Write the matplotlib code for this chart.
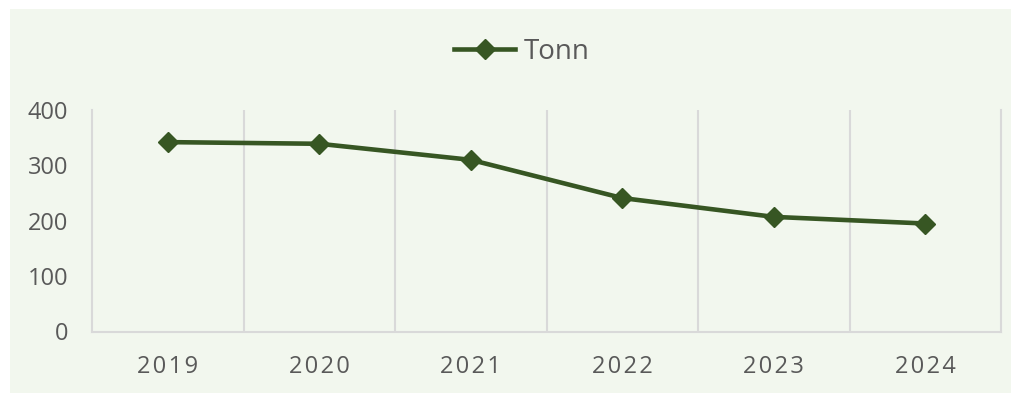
import matplotlib.pyplot as plt
from matplotlib.patches import Rectangle

years = ["2019", "2020", "2021", "2022", "2023", "2024"]
tonn = [342, 339, 310, 241, 207, 195]
y_ticks = [0, 100, 200, 300, 400]

line_color = "#375623"
grid_color = "#d9d9d9"
text_color = "#595959"
bg_color = "#f2f7ee"

plt.rcParams["font.family"] = ["Open Sans", "DejaVu Sans"]

fig = plt.figure(figsize=(10.12, 3.93), dpi=100, facecolor="white")
# chart area background, kept behind the axes
fig.patches.append(Rectangle((10 / 1012, 0.5 / 393), 1002 / 1012, 383.5 / 393,
                             transform=fig.transFigure, facecolor=bg_color,
                             edgecolor="none", zorder=-10))

ax = fig.add_axes([92 / 1012, (393 - 331.5) / 393, 909 / 1012, 221.5 / 393])
ax.set_facecolor(bg_color)

x = list(range(len(years)))
ax.plot(x, tonn, color=line_color, linewidth=3.3, marker="D", markersize=10.5,
        label="Tonn", zorder=3)

ax.set_xlim(-0.5, len(years) - 0.5)
ax.set_ylim(0, 400)
ax.set_yticks(y_ticks)
ax.set_yticklabels([str(v) for v in y_ticks], fontsize=17, color=text_color)
ax.set_xticks(x)
# slightly spread digits on the category labels
ax.set_xticklabels(["\u200a".join(y) for y in years], fontsize=17, color=text_color)
ax.tick_params(axis="both", length=0)
ax.tick_params(axis="x", pad=17)
ax.tick_params(axis="y", pad=17)

# vertical separators between categories
for b in [i + 0.5 for i in range(len(years) - 1)]:
    ax.axvline(b, color=grid_color, linewidth=1.5, zorder=1)

for side in ["left", "bottom", "right"]:
    ax.spines[side].set_color(grid_color)
    ax.spines[side].set_linewidth(1.5)
ax.spines["top"].set_visible(False)

fig.legend(loc="center", bbox_to_anchor=(522 / 1012, 1 - 52 / 393), frameon=False,
           fontsize=20, labelcolor=text_color, handlelength=2.2, handletextpad=0.3)

fig.savefig("out.png", dpi=100, facecolor="white")
